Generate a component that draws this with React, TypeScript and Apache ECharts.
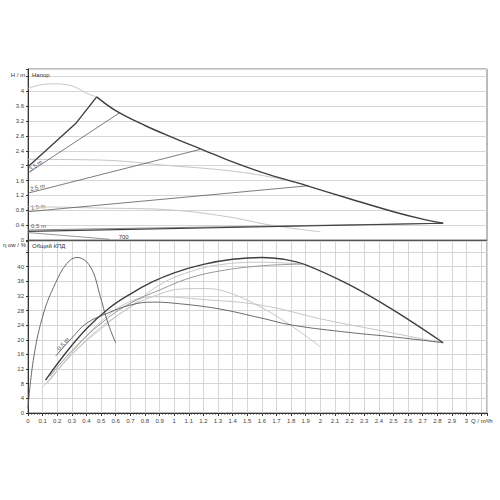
import React, { useEffect, useRef } from "react";
import * as echarts from "echarts";

// ---- head panel (H / m vs Q / m³/h) ----
const headMaxRise = [[0, 1.97], [0.33, 3.15], [0.47, 3.85]];
const headMaxFall = [[0.47, 3.85], [0.6, 3.48], [0.8, 3.08], [1.0, 2.74], [1.2, 2.42], [1.4, 2.1], [1.6, 1.82], [1.9, 1.47], [2.2, 1.11], [2.5, 0.76], [2.7, 0.56], [2.84, 0.45]];
const head35 = [[0, 1.8], [0.63, 3.43]];
const head25 = [[0, 1.26], [1.18, 2.44]];
const head15 = [[0, 0.76], [1.92, 1.46]];
const head05 = [[0, 0.23], [2.84, 0.45]];
const headMin = [[0, 0.27], [2.84, 0.45]];
const headSpeedHigh = [[0, 4.08], [0.08, 4.17], [0.17, 4.2], [0.26, 4.18], [0.33, 4.1], [0.4, 3.95], [0.47, 3.85]];
const headSpeedMid = [[0, 2.17], [0.5, 2.15], [0.97, 2.0], [1.36, 1.87], [1.65, 1.7], [1.92, 1.46]];
const headSpeedLow = [[0, 0.9], [0.49, 0.86], [0.97, 0.81], [1.36, 0.63], [1.66, 0.4], [2.0, 0.22]];
const power700 = [[0, 0.2], [0.56, 0.02]];

// ---- efficiency panel (η / % vs Q) ----
const effHump = [[0, 1.4], [0.04, 15.4], [0.107, 27.3], [0.187, 35.4], [0.267, 40.9], [0.335, 42.5], [0.426, 40], [0.495, 31.8], [0.54, 25.4], [0.6, 19.1]];
const effMax = [[0.12, 9], [0.25, 16], [0.4, 23], [0.55, 28.5], [0.7, 32.5], [0.85, 35.8], [1.0, 38.3], [1.2, 40.6], [1.4, 42], [1.6, 42.5], [1.75, 42], [1.9, 40.5], [2.2, 35], [2.5, 28.1], [2.84, 19.2]];
const effA = [[0.15, 10], [0.3, 17], [0.5, 24.5], [0.7, 30], [0.9, 33.6], [1.1, 36.8], [1.31, 38.8], [1.59, 40.2], [1.88, 40.7]];
const effB = [[0.1, 7], [0.3, 16], [0.5, 23.5], [0.7, 29], [0.9, 35], [1.1, 38.5], [1.31, 40.5], [1.59, 41.2], [1.88, 40.7]];
const effC = [[0.15, 9], [0.3, 16], [0.5, 23], [0.7, 29], [0.9, 32.5], [1.05, 33.9], [1.2, 34], [1.35, 33.2], [1.59, 29], [1.81, 23.6], [2.0, 18.1]];
const effD = [[0.13, 8], [0.3, 16.5], [0.5, 25], [0.7, 30.5], [0.9, 31.8], [1.2, 31], [1.59, 29.5], [2.04, 25.4], [2.4, 22.6], [2.73, 20], [2.84, 19.2]];
const eff05 = [[0.19, 15.6], [0.3, 20.5], [0.4, 24.5], [0.54, 27.2], [0.7, 29.5], [0.85, 30.3], [1.0, 30], [1.3, 28.5], [1.59, 26], [1.81, 24], [2.2, 22], [2.5, 20.8], [2.84, 19.2]];

const qMax = 3.14;
const hMax = 4.6;
const etaMax = 47;

const FONT = "Liberation Sans, Arial, sans-serif";
const DARK = "#404040";
const THIN = "#5a5a5a";
const GREY = "#c6c6c6";
const MID = "#8c8c8c";

function line(data: number[][], idx: number, color: string, width: number, smooth: boolean | number, z = 2) {
  return {
    type: "line",
    xAxisIndex: idx,
    yAxisIndex: idx,
    data,
    smooth,
    symbol: "none",
    silent: true,
    z,
    lineStyle: { color, width },
  };
}

export default function App() {
  const ref = useRef<HTMLDivElement>(null);
  useEffect(() => {
    const chart = echarts.init(ref.current!, undefined, { renderer: "svg" });
    const axisLabel = { fontSize: 6, color: "#444", fontFamily: FONT };
    chart.setOption({
      animation: false,
      backgroundColor: "#fff",
      grid: [
        { left: 28, right: 13, top: 69, height: 171, show: true, borderColor: "#777", borderWidth: 1 },
        { left: 28, right: 13, top: 241, height: 172, show: true, borderColor: "#777", borderWidth: 1 },
      ],
      xAxis: [
        {
          gridIndex: 0, type: "value", min: 0, max: qMax, interval: 0.1,
          axisLabel: { show: false }, axisTick: { show: false }, splitLine: { show: false },
          axisLine: { lineStyle: { color: "#555" } },
        },
        {
          gridIndex: 1, type: "value", min: 0, max: qMax, interval: 0.1,
          axisLabel: { ...axisLabel, margin: 5, formatter: (v: number) => (v > 3.01 ? "" : String(Math.round(v * 10) / 10)) },
          axisTick: { show: true, length: 3, lineStyle: { color: "#333" } },
          minorTick: { show: true, splitNumber: 5, length: 1.5, lineStyle: { color: "#333" } },
          splitLine: { show: true, lineStyle: { color: "#d6d6d6", width: 1 } },
          axisLine: { lineStyle: { color: "#333" } },
        },
      ],
      yAxis: [
        {
          gridIndex: 0, type: "value", min: 0, max: hMax, interval: 0.4,
          axisLabel: { ...axisLabel, margin: 4, formatter: (v: number) => (v > 4.01 ? "" : String(Math.round(v * 10) / 10)) },
          axisTick: { show: true, length: 2, lineStyle: { color: "#333" } },
          splitLine: { show: true, lineStyle: { color: "#d6d6d6", width: 1 } },
          axisLine: { show: true, lineStyle: { color: "#333" } },
        },
        {
          gridIndex: 1, type: "value", min: 0, max: etaMax, interval: 4,
          axisLabel: { ...axisLabel, margin: 4, formatter: (v: number) => (v > 40.5 ? "" : String(v)) },
          axisTick: { show: true, length: 2, lineStyle: { color: "#333" } },
          splitLine: { show: true, lineStyle: { color: "#d6d6d6", width: 1 } },
          axisLine: { show: true, lineStyle: { color: "#333" } },
        },
      ],
      series: [
        line(headSpeedHigh, 0, GREY, 1, 0.4, 1),
        line(headSpeedMid, 0, GREY, 1, 0.4, 1),
        line(headSpeedLow, 0, GREY, 1, 0.4, 1),
        line(headMin, 0, MID, 1, false, 1),
        line(power700, 0, MID, 0.9, false, 1),
        line(head35, 0, THIN, 0.8, false),
        line(head25, 0, THIN, 0.8, false),
        line(head15, 0, THIN, 0.8, false),
        line(head05, 0, DARK, 1.2, false, 3),
        line(headMaxRise, 0, DARK, 1.4, false, 3),
        line(headMaxFall, 0, DARK, 1.4, 0.4, 3),

        line(effB, 1, GREY, 1, 0.4, 1),
        line(effC, 1, GREY, 1, 0.4, 1),
        line(effD, 1, GREY, 1, 0.4, 1),
        line(effA, 1, MID, 0.9, 0.4, 1),
        line(eff05, 1, THIN, 0.9, 0.4, 2),
        line(effHump, 1, THIN, 0.9, 0.4, 2),
        line(effMax, 1, DARK, 1.4, 0.4, 3),
      ],
    });

    const px = (idx: number, q: number, v: number) =>
      chart.convertToPixel({ xAxisIndex: idx, yAxisIndex: idx } as any, [q, v]) as number[];
    const lineText = (text: string, idx: number, a: number[], b: number[], dy: number) => {
      const p1 = px(idx, a[0], a[1]);
      const p2 = px(idx, b[0], b[1]);
      const ang = Math.atan2(-(p2[1] - p1[1]), p2[0] - p1[0]);
      return {
        type: "text",
        x: p1[0] + 3,
        y: p1[1] - 1 + dy,
        rotation: ang,
        silent: true,
        style: { text, fontSize: 6, fill: "#555", fontFamily: FONT, textVerticalAlign: "bottom" },
      };
    };
    const tx = (text: string, x: number, y: number, align = "left") => ({
      type: "text", x, y, silent: true,
      style: { text, fontSize: 6, fill: "#333", fontFamily: FONT, textAlign: align, textVerticalAlign: "middle" },
    });
    const p700 = px(0, 0.62, 0.08);
    chart.setOption({
      graphic: [
        tx("H / m", 25, 75, "right"),
        tx("Напор", 32, 75),
        tx("η ow / %", 26, 245, "right"),
        tx("Общий КПД", 32, 246),
        tx("Q / m³/h", 471, 421),
        lineText("3.5 m", 0, [0, 1.8], [0.63, 3.43], 0),
        lineText("2.5 m", 0, [0, 1.26], [1.18, 2.44], 0),
        lineText("1.5 m", 0, [0, 0.76], [1.92, 1.46], 0),
        lineText("0.5 m", 0, [0, 0.23], [0, 0.23], -1),
        tx("700", p700[0], p700[1]),
        lineText("0.5 m", 1, [0.2, 16.5], [0.34, 22.5], 0),
      ],
    });
    return () => chart.dispose();
  }, []);
  return <div ref={ref} style={{ position: "fixed", left: 0, top: 0, width: 500, height: 500 }} />;
}
